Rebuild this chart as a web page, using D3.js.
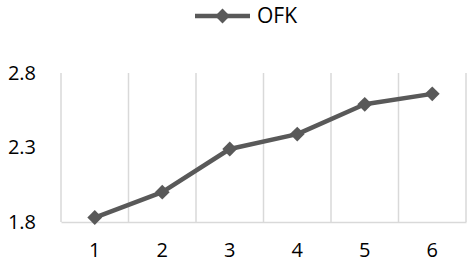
<!DOCTYPE html>
<html>
<head>
<meta charset="utf-8">
<script src="https://cdn.jsdelivr.net/npm/d3@7"></script>
<style>
  body { margin: 0; background: #fff; }
  text { font-family: "Open Sans", "Liberation Sans", sans-serif; fill: #000; }
</style>
</head>
<body>
<svg id="chart" width="474" height="264"></svg>
<script>
// 数据
const categories = ['1', '2', '3', '4', '5', '6']
const seriesName = 'OFK'
const values = [1.83, 2.0, 2.29, 2.39, 2.59, 2.66]
const yTicks = [1.8, 2.3, 2.8]

const W = 474, H = 264
const margin = { top: 73, right: 8, bottom: 42, left: 61 }
const innerW = W - margin.left - margin.right
const innerH = H - margin.top - margin.bottom
const lineColor = '#595959'
const gridColor = '#d9d9d9'
const fontSize = 20

const svg = d3.select('#chart')
const g = svg.append('g').attr('transform', `translate(${margin.left},${margin.top})`)

// 比例尺
const x = d3.scaleBand().domain(categories).range([0, innerW])
const y = d3.scaleLinear().domain([1.8, 2.8]).range([innerH, 0])

// 竖向网格线（类别边界）
const bounds = categories.map(c => x(c)).concat([innerW])
g.selectAll('line.vgrid')
  .data(bounds)
  .join('line')
  .attr('class', 'vgrid')
  .attr('x1', d => d).attr('x2', d => d)
  .attr('y1', 0).attr('y2', innerH)
  .attr('stroke', gridColor)
  .attr('stroke-width', 1.5)

// x 轴
const xAxisG = g.append('g')
  .attr('transform', `translate(0,${innerH})`)
  .call(d3.axisBottom(x).tickSize(0).tickPadding(21))
xAxisG.select('.domain').attr('stroke', gridColor).attr('stroke-width', 1.5)
xAxisG.selectAll('text').attr('font-size', fontSize).attr('font-family', '"Open Sans", sans-serif')

// y 轴
const yAxisG = g.append('g')
  .call(d3.axisLeft(y).tickValues(yTicks).tickFormat(d3.format('.1f')).tickSize(0).tickPadding(25))
yAxisG.select('.domain').remove()
yAxisG.selectAll('text').attr('font-size', fontSize).attr('font-family', '"Open Sans", sans-serif')

// 折线
const line = d3.line()
  .x((d, i) => x(categories[i]) + x.bandwidth() / 2)
  .y(d => y(d))

g.append('path')
  .datum(values)
  .attr('d', line)
  .attr('fill', 'none')
  .attr('stroke', lineColor)
  .attr('stroke-width', 4.5)
  .attr('stroke-linejoin', 'round')

const diamond = d3.symbol().type(d3.symbolDiamond2).size(140)
g.selectAll('path.marker')
  .data(values)
  .join('path')
  .attr('class', 'marker')
  .attr('d', diamond)
  .attr('transform', (d, i) => `translate(${x(categories[i]) + x.bandwidth() / 2},${y(d)})`)
  .attr('fill', lineColor)

// 图例
const lg = svg.append('g').attr('transform', 'translate(195,16)')
lg.append('line')
  .attr('x1', 0).attr('x2', 55)
  .attr('stroke', lineColor).attr('stroke-width', 4.5)
lg.append('path')
  .attr('d', diamond)
  .attr('transform', 'translate(27.5,0)')
  .attr('fill', lineColor)
lg.append('text')
  .attr('x', 62).attr('y', 0)
  .attr('dy', '0.35em')
  .attr('font-size', 21)
  .text(seriesName)
</script>
</body>
</html>
